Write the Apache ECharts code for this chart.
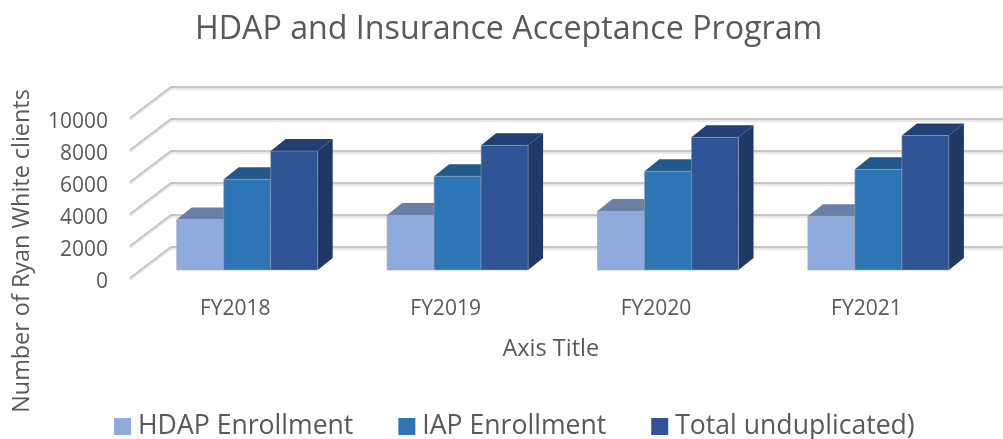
<!DOCTYPE html>
<html>
<head>
<meta charset="utf-8">
<style>
html, body { margin: 0; padding: 0; background: #fff; }
#chart { width: 1003px; height: 439px; }
</style>
<script src="https://cdn.jsdelivr.net/npm/echarts@6/dist/echarts.min.js"></script>
</head>
<body>
<div id="chart"></div>
<script>
const categories = ['FY2018', 'FY2019', 'FY2020', 'FY2021'];
const hdapEnrollment = [3160, 3430, 3680, 3360];
const iapEnrollment = [5670, 5860, 6170, 6290];
const totalUnduplicated = [7430, 7790, 8290, 8410];
const yTicks = [0, 2000, 4000, 6000, 8000, 10000];

const FONT = '"Open Sans", "Noto Sans", sans-serif';
const TEXT = '#595959';

// fake 3d: wall is pushed back from the axis plane, bars sit in the middle of the floor
const WALL_DX = 41, WALL_DY = -31;
const BAR_DX = 12, BAR_DY = -8;
const DEPTH_DX = 15, DEPTH_DY = -12;
const BAR_SHARE = 47 / 210.4;

function gridLines (params, api) {
    const rect = params.coordSys;
    const y = api.coord([0, api.value(1)])[1];
    const pts = [
        [rect.x, y],
        [rect.x + WALL_DX, y + WALL_DY],
        [rect.x + rect.width + WALL_DX, y + WALL_DY]
    ];
    const lower = pts.map(p => [p[0], p[1] + 2]);
    return {
        type: 'group',
        children: [
            { type: 'polyline', shape: { points: lower }, style: { fill: 'none', stroke: '#e8e8e8', lineWidth: 2 } },
            { type: 'polyline', shape: { points: pts }, style: { fill: 'none', stroke: '#c6c6c6', lineWidth: 2 } }
        ]
    };
}

function bar3d (slot, front, top, side) {
    return function (params, api) {
        const base = api.coord([api.value(0), 0]);
        const head = api.coord([api.value(0), api.value(1)]);
        const w = api.size([1, 0])[0] * BAR_SHARE;
        const x0 = base[0] + BAR_DX + (slot - 1.5) * w;
        const x1 = x0 + w;
        const y0 = base[1] + BAR_DY;
        const y1 = head[1] + BAR_DY;
        return {
            type: 'group',
            children: [
                {
                    type: 'polygon',
                    shape: { points: [[x0, y1], [x0 + DEPTH_DX, y1 + DEPTH_DY], [x1 + DEPTH_DX, y1 + DEPTH_DY], [x1, y1]] },
                    style: { fill: top }
                },
                {
                    type: 'polygon',
                    shape: { points: [[x1, y1], [x1 + DEPTH_DX, y1 + DEPTH_DY], [x1 + DEPTH_DX, y0 + DEPTH_DY], [x1, y0]] },
                    style: { fill: side }
                },
                {
                    type: 'rect',
                    shape: { x: x0, y: y1, width: w, height: y0 - y1 },
                    style: { fill: front, stroke: 'rgba(150,160,180,0.55)', lineWidth: 1 }
                }
            ]
        };
    };
}

function barSeries (name, values, slot, front, top, side) {
    return {
        name: name,
        type: 'custom',
        coordinateSystem: 'cartesian2d',
        renderItem: bar3d(slot, front, top, side),
        encode: { x: 0, y: 1 },
        data: values.map((v, i) => [i, v]),
        itemStyle: { color: front },
        z: 2 + slot
    };
}

const myChart = echarts.init(document.getElementById('chart'));
myChart.setOption({
    animation: false,
    backgroundColor: '#fff',
    textStyle: { fontFamily: FONT, color: TEXT },
    title: {
        text: 'HDAP and Insurance Acceptance Program',
        left: 190,
        top: 9,
        textStyle: { fontFamily: FONT, fontSize: 32.2, fontWeight: 'normal', color: TEXT }
    },
    legend: {
        data: ['HDAP Enrollment', 'IAP Enrollment', 'Total unduplicated)'],
        left: 109,
        top: 408,
        icon: 'rect',
        itemWidth: 17,
        itemHeight: 17,
        itemGap: 45,
        textStyle: { fontFamily: FONT, fontSize: 26.6, color: TEXT, padding: [0, 0, 0, 2] }
    },
    grid: { left: 130, top: 118, width: 841.6, height: 160 },
    xAxis: {
        type: 'category',
        data: categories,
        axisLine: { show: false },
        axisTick: { show: false },
        axisLabel: { fontSize: 21, color: TEXT, margin: 21 },
        name: 'Axis Title',
        nameLocation: 'middle',
        nameGap: 59,
        nameTextStyle: { fontFamily: FONT, fontSize: 23.5, color: TEXT }
    },
    yAxis: {
        type: 'value',
        min: 0,
        max: 10000,
        interval: 2000,
        axisLine: { show: false },
        axisTick: { show: false },
        splitLine: { show: false },
        axisLabel: {
            margin: 22,
            formatter: v => '{n|' + v + '}',
            // nudged down so the digits line up with the front end of each grid line
            rich: { n: { fontFamily: FONT, fontSize: 21, color: TEXT, padding: [8, 0, 0, 0] } }
        }
    },
    graphic: [{
        type: 'text',
        x: 22,
        y: 251,
        rotation: Math.PI / 2,
        style: {
            text: 'Number of Ryan White clients',
            font: '23.4px ' + FONT,
            fill: TEXT,
            align: 'center',
            verticalAlign: 'middle'
        }
    }],
    series: [
        {
            name: 'walls',
            type: 'custom',
            coordinateSystem: 'cartesian2d',
            renderItem: gridLines,
            encode: { x: 0, y: 1 },
            data: yTicks.map(v => [0, v]),
            silent: true,
            z: 1
        },
        barSeries('HDAP Enrollment', hdapEnrollment, 0, '#8faadc', '#6b7fa6', '#566a90'),
        barSeries('IAP Enrollment', iapEnrollment, 1, '#2e75b6', '#22598a', '#1d4c76'),
        barSeries('Total unduplicated)', totalUnduplicated, 2, '#2f5597', '#223f73', '#1f3864')
    ]
});
</script>
</body>
</html>
